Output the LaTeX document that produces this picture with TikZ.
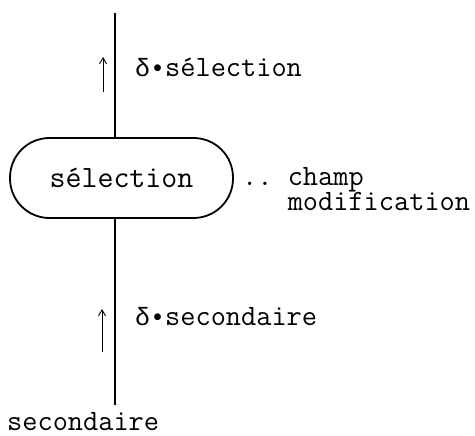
\documentclass[tikz,border=0pt]{standalone}
\usepackage{fontspec}
\newfontfamily\grk{Liberation Mono}
\usetikzlibrary{arrows.meta}
\tikzset{
    lbl/.style={font=\ttfamily\frenchspacing\fontsize{29.5}{25}\selectfont, inner sep=0pt},
    box/.style={lbl, font=\ttfamily\fontsize{31}{34}\selectfont, draw, line width=1.8pt,
        rounded corners=39.5pt, minimum width=223pt, minimum height=80pt},
    flow/.style={line width=2.2pt},
    delta/.style={-{Straight Barb[length=6pt,width=7pt]}, line width=0.9pt}
}
\newcommand{\dlt}{{\grk\fontsize{25}{30}\selectfont δ•}}
\begin{document}
\begin{tikzpicture}[x=1pt,y=-1pt]
    \useasboundingbox (0,0) rectangle (475,436);
    \node[box] (sel) at (121.5,178) {sélection};
    \coordinate (top) at (115,13);
    \coordinate (bot) at (115,405);
    \draw[flow] (top) -- (top |- sel.north);
    \draw[flow] (bot |- sel.south) -- (bot);

    \node[lbl,anchor=base west] (dsel) at (135,77) {\dlt sélection};
    \node[lbl,anchor=base west] (dsec) at (135,326) {\dlt secondaire};
    \node[lbl,anchor=base west,align=left] (champ) at (242,211)
        {.. champ\\\hphantom{...}modification};
    \node[lbl,anchor=base west] (sec) at (7,430) {secondaire};

    \coordinate (a1s) at (103,92);
    \coordinate (a1e) at (103,57);
    \draw[delta] (a1s) -- (a1e);
    \coordinate (a2s) at (102,352);
    \coordinate (a2e) at (102,309);
    \draw[delta] (a2s) -- (a2e);
\end{tikzpicture}
\end{document}
